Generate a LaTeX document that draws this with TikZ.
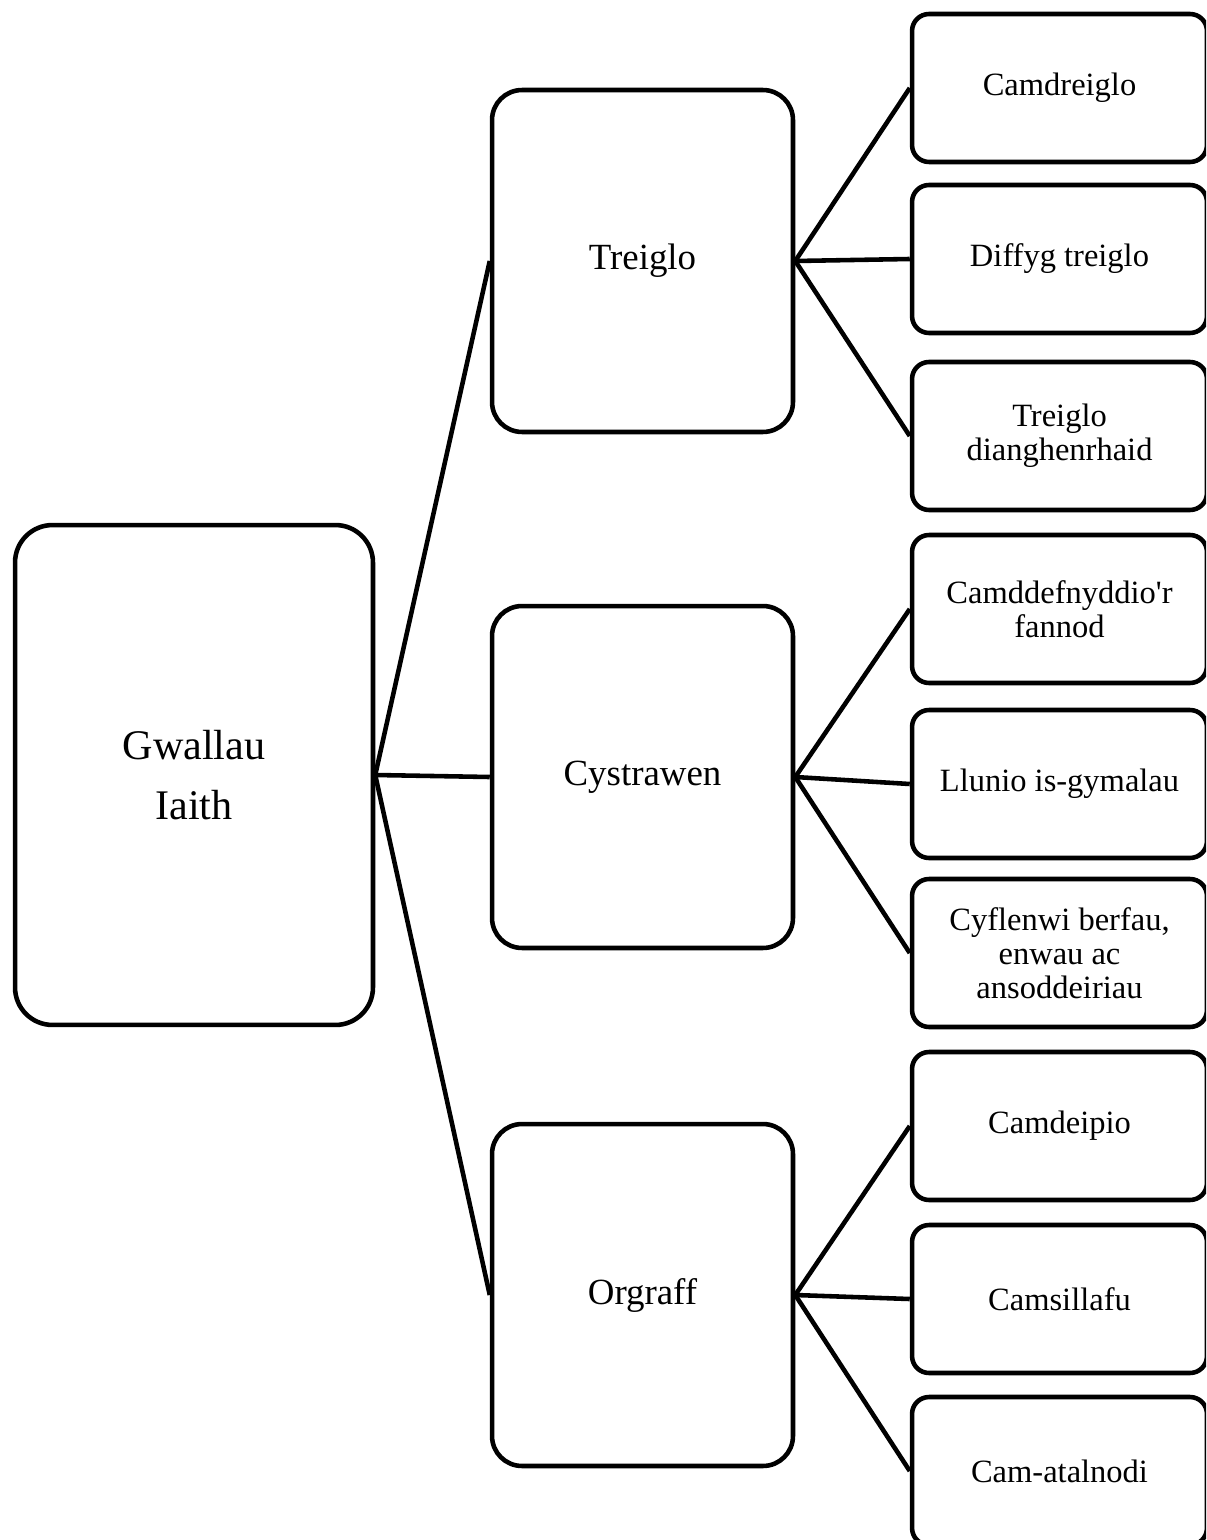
\documentclass[tikz,border=0pt]{standalone}
\usepackage{fontspec}
\setmainfont{Liberation Serif}
\begin{document}
\begin{tikzpicture}[x=0.02cm,y=-0.02cm,line width=2.6pt,err/.style={shape=rectangle,draw=black,align=center,inner sep=2pt},errR/.style={err,minimum width=7.16cm,minimum height=10cm,rounded corners=0.75cm,font=\fontsize{24}{34}\selectfont},errM/.style={err,minimum width=6.02cm,minimum height=6.84cm,rounded corners=0.6cm,font=\fontsize{21}{25}\selectfont},errL/.style={err,minimum width=5.9cm,minimum height=2.96cm,rounded corners=0.34cm,font=\fontsize{18.5}{19.5}\selectfont}]
\def\xm{642.5};
\def\xl{1059.5};

\clip (0,0) rectangle (1206,1540);

\node[errR] (G) at (194,775) {Gwallau\\Iaith};

\node[errM] (T) at (\xm,261) {Treiglo};
\draw (G.east) -- (T.west);
\node[errM] (C) at (\xm,777) {Cystrawen};
\draw (G.east) -- (C.west);
\node[errM] (O) at (\xm,1295) {Orgraff};
\draw (G.east) -- (O.west);

\node[errL] (T1) at (\xl,88) {Camdreiglo};
\draw (T.east) -- (T1.west);
\node[errL] (T2) at (\xl,259) {Diffyg treiglo};
\draw (T.east) -- (T2.west);
\node[errL] (T3) at (\xl,436) {Treiglo\\dianghenrhaid};
\draw (T.east) -- (T3.west);

\node[errL] (C1) at (\xl,609) {Camddefnyddio\textquotesingle r\\fannod};
\draw (C.east) -- (C1.west);
\node[errL] (C2) at (\xl,784) {Llunio is-gymalau};
\draw (C.east) -- (C2.west);
\node[errL] (C3) at (\xl,953) {Cyflenwi berfau,\\enwau ac\\ansoddeiriau};
\draw (C.east) -- (C3.west);

\node[errL] (O1) at (\xl,1126) {Camdeipio};
\draw (O.east) -- (O1.west);
\node[errL] (O2) at (\xl,1299) {Camsillafu};
\draw (O.east) -- (O2.west);
\node[errL] (O3) at (\xl,1471) {Cam-atalnodi};
\draw (O.east) -- (O3.west);
\end{tikzpicture}
\end{document}
